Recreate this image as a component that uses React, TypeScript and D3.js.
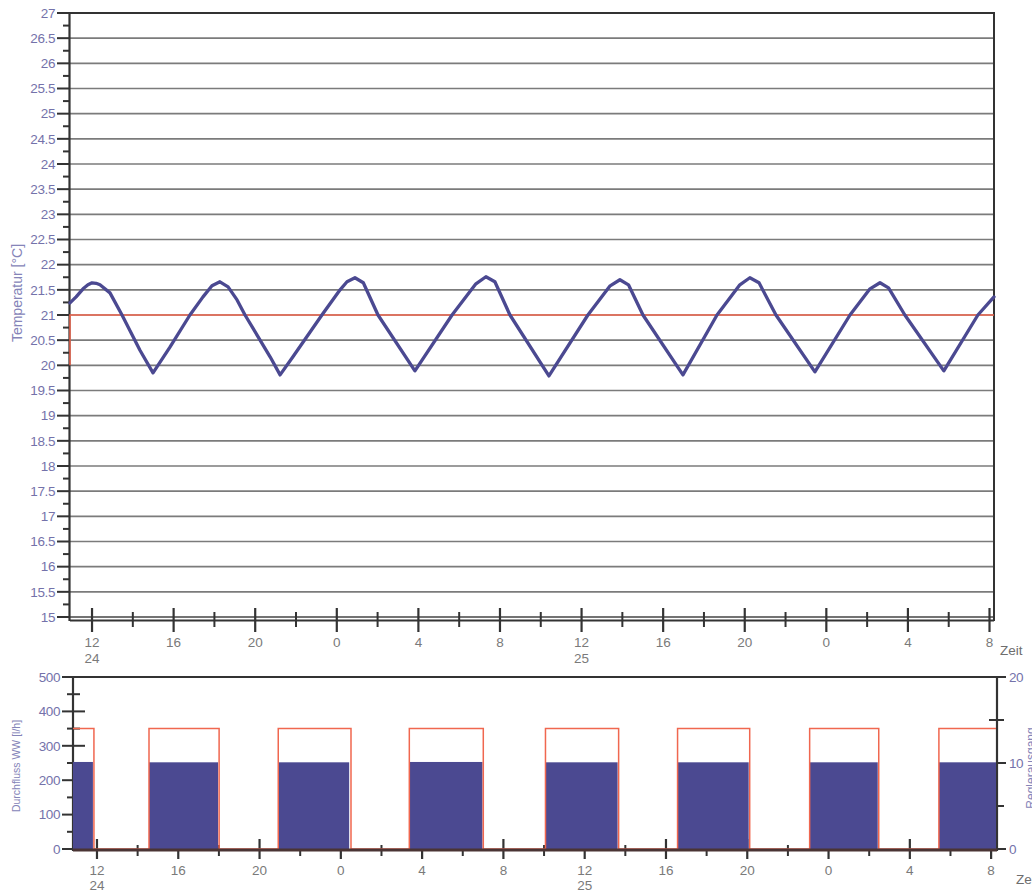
import React from 'react';
import * as d3 from 'd3';

// ---------- data (hours counted from 0:00 on day 24) ----------
const tempTickValues = [15, 15.5, 16, 16.5, 17, 17.5, 18, 18.5, 19, 19.5, 20, 20.5, 21, 21.5, 22, 22.5, 23, 23.5, 24, 24.5, 25, 25.5, 26, 26.5, 27];
const tempTickLabels = ['15', '15.5', '16', '16.5', '17', '17.5', '18', '18.5', '19', '19.5', '20', '20.5', '21', '21.5', '22', '22.5', '23', '23.5', '24', '24.5', '25', '25.5', '26', '26.5', '27'];
const flowTickValues = [0, 100, 200, 300, 400, 500];
const flowTickLabels = ['0', '100', '200', '300', '400', '500'];
const ctrlTickValues = [0, 10, 20];
const ctrlTickLabels = ['0', '10', '20'];
const hourTicks = [12, 16, 20, 24, 28, 32, 36, 40, 44, 48, 52, 56];
const hourLabels = ['12', '16', '20', '0', '4', '8', '12', '16', '20', '0', '4', '8'];
const dayTicks = [12, 36];
const dayLabels = ['24', '25'];

const tempHours = [
  10.92, 11.22, 11.56, 11.8, 12.0, 12.2, 12.39, 12.88, 13.47, 14.35, 14.99,
  15.82, 16.8, 17.44, 17.88, 18.27, 18.67, 19.11, 19.5, 20.73, 21.22,
  21.85, 23.27, 24.16, 24.5, 24.89, 25.3, 26.02, 27.83,
  29.65, 30.82, 31.31, 31.75, 32.49, 34.4,
  36.31, 37.4, 37.88, 38.3, 39.01, 40.97,
  42.64, 43.76, 44.25, 44.7, 45.53, 47.44,
  49.16, 50.14, 50.63, 51.05, 51.85, 53.76,
  55.43, 56.22,
];
const tempValues = [
  21.24, 21.36, 21.52, 21.6, 21.64, 21.63, 21.6, 21.44, 21.0, 20.3, 19.85,
  20.36, 21.0, 21.36, 21.58, 21.66, 21.56, 21.3, 21.0, 20.17, 19.81,
  20.17, 21.0, 21.5, 21.66, 21.74, 21.64, 21.0, 19.89,
  21.0, 21.62, 21.76, 21.66, 21.0, 19.79,
  21.0, 21.58, 21.7, 21.6, 21.0, 19.81,
  21.0, 21.6, 21.74, 21.64, 21.0, 19.87,
  21.0, 21.52, 21.64, 21.54, 21.0, 19.89,
  21.0, 21.36,
];

const setpointHours = [10.92, 10.92, 56.22];
const setpointValues = [20, 21, 21];

const pumpOn = [10.82, 14.56, 20.92, 27.37, 34.07, 40.57, 47.07, 53.43];
const pumpOff = [11.8, 17.96, 24.41, 30.97, 37.62, 44.07, 50.42, 56.24];
const flowValues = [253, 252, 252, 253, 252, 252, 252, 252];
const ctrlOff = [11.85, 18.01, 24.5, 31.01, 37.67, 44.12, 50.47, 56.24];
const ctrlValues = [14, 14, 14, 14, 14, 14, 14, 14];

const FONT = "'Liberation Sans', Arial, sans-serif";
const PURPLE_TXT = '#7472aa';
const GREY_TXT = '#7a7a7a';
const NAVY = '#4b4991';
const RED = '#f0674f';
const DARK = '#333';

export default function App() {
  const xT = d3.scaleLinear().domain([10.92, 56.22]).range([70, 994]);
  const yT = d3.scaleLinear().domain([15, 27]).range([617, 13]);
  const xB = d3.scaleLinear().domain([10.82, 56.24]).range([73, 996]);
  const yB = d3.scaleLinear().domain([0, 500]).range([849, 677]);
  const yR = d3.scaleLinear().domain([0, 20]).range([849, 677]);

  const tempLine = d3.line<number>()
    .x((_, i) => xT(tempHours[i]))
    .y((d) => yT(d))(tempValues) || '';
  const setLine = d3.line<number>()
    .x((_, i) => xT(setpointHours[i]))
    .y((d) => yT(d))(setpointValues) || '';

  const ctrlPts: [number, number][] = [];
  pumpOn.forEach((on, i) => {
    if (i === 0) ctrlPts.push([on, ctrlValues[i]]);
    else { ctrlPts.push([on, 0]); ctrlPts.push([on, ctrlValues[i]]); }
    ctrlPts.push([ctrlOff[i], ctrlValues[i]]);
    if (i < pumpOn.length - 1) ctrlPts.push([ctrlOff[i], 0]);
  });
  const ctrlLine = d3.line<[number, number]>()
    .x((d) => xB(d[0]))
    .y((d) => yR(d[1]))(ctrlPts) || '';

  // minor ticks (positions halfway between labelled ticks)
  const tempMinor = tempTickValues.slice(0, -1).map((v, i) => (v + tempTickValues[i + 1]) / 2);
  const flowMinor = flowTickValues.slice(0, -1).map((v, i) => (v + flowTickValues[i + 1]) / 2);
  const ctrlMinor = ctrlTickValues.slice(0, -1).map((v, i) => (v + ctrlTickValues[i + 1]) / 2);
  const hourMinor = hourTicks.slice(0, -1).map((v, i) => (v + hourTicks[i + 1]) / 2);

  return (
    <svg width={1032} height={892} style={{ position: 'absolute', left: 0, top: 0, background: '#fff' }} fontFamily={FONT}>
      <rect x={0} y={0} width={1032} height={892} fill="#fff" />
      {/* ---------------- TOP CHART ---------------- */}
      {tempTickValues.slice(1, -1).map((v) => (
        <line key={'g' + v} x1={70} x2={994} y1={yT(v)} y2={yT(v)} stroke="#7b7b7b" strokeWidth={1.6} />
      ))}
      <line x1={70} x2={994} y1={yT(15)} y2={yT(15)} stroke="#444" strokeWidth={1.6} />
      <line x1={70} x2={994} y1={yT(15) + 3.5} y2={yT(15) + 3.5} stroke={DARK} strokeWidth={1.8} />
      <line x1={69} x2={995} y1={yT(27)} y2={yT(27)} stroke={DARK} strokeWidth={2} />
      <line x1={994} x2={994} y1={yT(27)} y2={yT(15) + 4} stroke={DARK} strokeWidth={2} />
      <line x1={69.5} x2={69.5} y1={yT(27)} y2={yT(15) + 4} stroke={DARK} strokeWidth={2.2} />
      {tempTickValues.map((v) => (
        <line key={'tm' + v} x1={57} x2={70} y1={yT(v)} y2={yT(v)} stroke={DARK} strokeWidth={2} />
      ))}
      {tempMinor.map((v) => (
        <line key={'tn' + v} x1={63} x2={70} y1={yT(v)} y2={yT(v)} stroke={DARK} strokeWidth={2} />
      ))}
      {tempTickValues.map((v, i) => (
        <text key={'tl' + v} x={55} y={yT(v)} dy="0.35em" textAnchor="end" fontSize={13.5} fill={PURPLE_TXT} letterSpacing={-0.4}>
          {tempTickLabels[i]}
        </text>
      ))}
      <text transform={`translate(22,293) rotate(-90)`} textAnchor="middle" fontSize={14} fill="#8584b8">Temperatur [°C]</text>
      {hourTicks.map((h) => (
        <line key={'xt' + h} x1={xT(h)} x2={xT(h)} y1={608} y2={632} stroke={DARK} strokeWidth={2.2} />
      ))}
      {hourMinor.map((h) => (
        <line key={'xn' + h} x1={xT(h)} x2={xT(h)} y1={612} y2={627} stroke={DARK} strokeWidth={2} />
      ))}
      {hourTicks.map((h, i) => (
        <text key={'xl' + h} x={xT(h)} y={647} textAnchor="middle" fontSize={13.5} fill={GREY_TXT}>{hourLabels[i]}</text>
      ))}
      {dayTicks.map((h, i) => (
        <text key={'dl' + h} x={xT(h)} y={663} textAnchor="middle" fontSize={13.5} fill={GREY_TXT}>{dayLabels[i]}</text>
      ))}
      <text x={1000} y={655} fontSize={13.5} fill="#6e6e6e">Zeit</text>
      <path d={setLine} fill="none" stroke={RED} strokeWidth={1.5} />
      <path d={tempLine} fill="none" stroke={NAVY} strokeWidth={3.3} strokeLinejoin="round" strokeLinecap="round" />

      {/* ---------------- BOTTOM CHART ---------------- */}
      <line x1={72} x2={997} y1={yB(500)} y2={yB(500)} stroke={DARK} strokeWidth={2} />
      <line x1={73} x2={73} y1={yB(500)} y2={yB(0) + 2} stroke={DARK} strokeWidth={2.2} />
      <line x1={997} x2={997} y1={yB(500)} y2={yB(0) + 2} stroke={DARK} strokeWidth={2.2} />
      {flowTickValues.map((v) => (
        <line key={'ft' + v} x1={62} x2={85} y1={yB(v)} y2={yB(v)} stroke={DARK} strokeWidth={2} />
      ))}
      {flowMinor.map((v) => (
        <line key={'fn' + v} x1={67} x2={80} y1={yB(v)} y2={yB(v)} stroke={DARK} strokeWidth={2} />
      ))}
      {flowTickValues.map((v, i) => (
        <text key={'fl' + v} x={60} y={yB(v)} dy="0.35em" textAnchor="end" fontSize={13.5} fill={PURPLE_TXT} letterSpacing={-0.4}>
          {flowTickLabels[i]}
        </text>
      ))}
      <text transform={`translate(20,766) rotate(-90)`} textAnchor="middle" fontSize={10.5} fill="#8584b8">Durchfluss WW [l/h]</text>
      {ctrlTickValues.map((v) => (
        <line key={'rt' + v} x1={997} x2={1006} y1={yR(v)} y2={yR(v)} stroke={DARK} strokeWidth={2} />
      ))}
      {ctrlMinor.map((v) => (
        <line key={'rn' + v} x1={989} x2={1004} y1={yR(v)} y2={yR(v)} stroke={DARK} strokeWidth={2} />
      ))}
      {ctrlTickValues.map((v, i) => (
        <text key={'rl' + v} x={1009} y={yR(v)} dy="0.35em" fontSize={13.5} fill={PURPLE_TXT} letterSpacing={-0.4}>
          {ctrlTickLabels[i]}
        </text>
      ))}
      <text transform={`translate(1035,768) rotate(-90)`} textAnchor="middle" fontSize={12} fill="#8584b8">Reglerausgang</text>
      {hourTicks.map((h) => (
        <line key={'bt' + h} x1={xB(h)} x2={xB(h)} y1={839} y2={859} stroke={DARK} strokeWidth={2.2} />
      ))}
      {hourMinor.map((h) => (
        <line key={'bn' + h} x1={xB(h)} x2={xB(h)} y1={845} y2={856} stroke={DARK} strokeWidth={2} />
      ))}
      {pumpOn.map((on, i) => (
        <rect key={'bar' + i} x={xB(on)} width={xB(pumpOff[i]) - xB(on)} y={yB(flowValues[i])} height={yB(0) - yB(flowValues[i])} fill={NAVY} />
      ))}
      <path d={ctrlLine} fill="none" stroke={RED} strokeWidth={1.5} />
      <line x1={73} x2={997} y1={yB(0) + 1} y2={yB(0) + 1} stroke="#4a3434" strokeWidth={3} />
      {hourTicks.map((h, i) => (
        <text key={'bl' + h} x={xB(h)} y={875} textAnchor="middle" fontSize={13.5} fill={GREY_TXT}>{hourLabels[i]}</text>
      ))}
      {dayTicks.map((h, i) => (
        <text key={'bd' + h} x={xB(h)} y={890} textAnchor="middle" fontSize={13.5} fill={GREY_TXT}>{dayLabels[i]}</text>
      ))}
      <text x={1016} y={884} fontSize={13.5} fill="#6e6e6e">Zeit</text>
    </svg>
  );
}
